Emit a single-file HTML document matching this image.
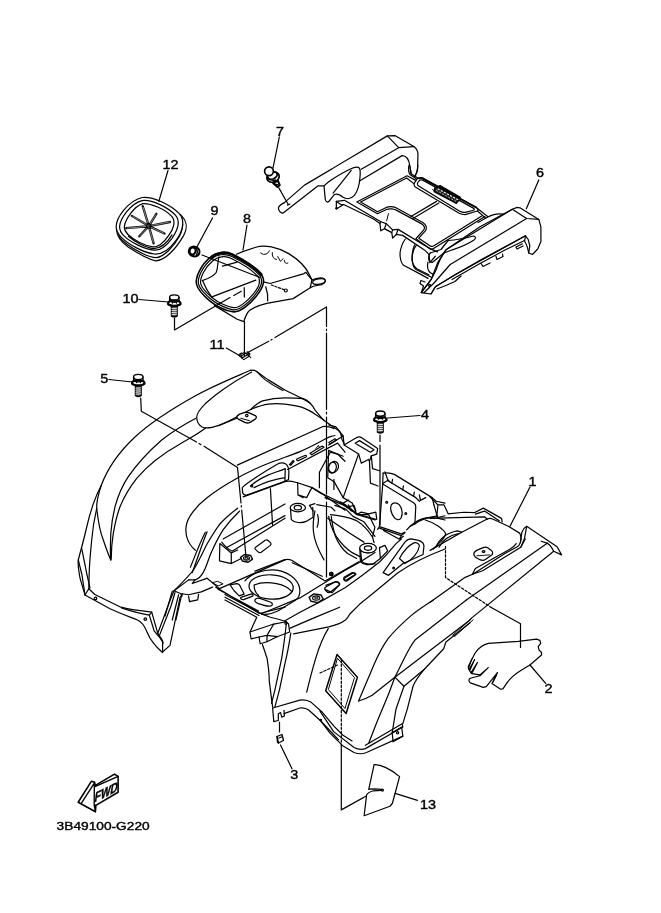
<!DOCTYPE html>
<html><head><meta charset="utf-8">
<style>
html,body{margin:0;padding:0;background:#fff;}
svg{display:block;opacity:0.999;}
text{font-family:"Liberation Sans",sans-serif;font-size:12.3px;fill:#000;stroke:#000;stroke-width:0.4px;}
.l{fill:none;stroke:#000;stroke-width:1;stroke-linecap:round;stroke-linejoin:round;vector-effect:non-scaling-stroke;}
.t path,.t line,.t polyline,.t circle,.t ellipse,.t rect,.t polygon{vector-effect:non-scaling-stroke;}
</style></head>
<body>
<svg width="661" height="913" viewBox="0 0 661 913" fill="none" stroke="#000" stroke-width="1.22" stroke-linecap="round" stroke-linejoin="round">
<defs>
<g id="bolt" stroke-width="1.22">
  <ellipse cx="0" cy="-5.6" rx="4.7" ry="2.6" fill="#fff" stroke-width="1.34"/>
  <path d="M-4.7,-5.6 L-4.7,-2 M4.7,-5.6 L4.7,-2 M-1.8,-2.4 L-1.8,0 M2.2,-2.4 L2.2,0" stroke-width="1.34"/>
  <path d="M-4.7,-2.2 Q0,0.8 4.7,-2.2" stroke-width="1.34"/>
  <ellipse cx="0" cy="0.2" rx="6.2" ry="2.5" stroke-width="1.95"/>
  <path d="M-6.2,0.2 L-6.2,1.4 Q0,5.4 6.2,1.4 L6.2,0.2" stroke-width="1.83"/>
  <path d="M-2.8,3.4 L-2.8,13 Q0,14.6 2.8,13 L2.8,3.4 Z" stroke-width="1.46" fill="#555"/>
  <path d="M-2.4,5.6 L2.4,5.2 M-2.4,7.6 L2.4,7.2 M-2.4,9.6 L2.4,9.2 M-2.4,11.6 L2.4,11.2" stroke="#fff" stroke-width="0.85"/>
</g>
</defs>

<!-- LABELS -->
<g id="labels" stroke="none" opacity="0.999">
<g transform="translate(162.5,168.8) scale(1.17,1)"><text>12</text></g>
<g transform="translate(210.5,215) scale(1.17,1)"><text>9</text></g>
<g transform="translate(243,223) scale(1.17,1)"><text>8</text></g>
<g transform="translate(122.5,303) scale(1.17,1)"><text>10</text></g>
<g transform="translate(209.5,348.8) scale(1.17,1)"><text>11</text></g>
<g transform="translate(276,135.8) scale(1.17,1)"><text>7</text></g>
<g transform="translate(536.0,176.5) scale(1.17,1)"><text>6</text></g>
<g transform="translate(100.3,383.3) scale(1.17,1)"><text>5</text></g>
<g transform="translate(421,418.8) scale(1.17,1)"><text>4</text></g>
<g transform="translate(528.5,485.8) scale(1.17,1)"><text>1</text></g>
<g transform="translate(544.5,692.8) scale(1.17,1)"><text>2</text></g>
<g transform="translate(290.3,778.8) scale(1.17,1)"><text>3</text></g>
<g transform="translate(420,808.8) scale(1.17,1)"><text>13</text></g>
<g transform="translate(56.6,829.7) scale(1.205,1)"><text style="font-size:11.4px">3B49100-G220</text></g>
</g>

<!-- BOLTS -->
<use href="#bolt" x="138.3" y="382.6"/>
<use href="#bolt" x="380.3" y="419.2"/>
<use href="#bolt" x="174.3" y="303"/>


<!-- PART 12 cap : zoom coords offset(108,190) scale 7.344 -->
<g class="t" transform="translate(108,190) scale(0.13616)">
<path d="M62,290 C65,340 100,385 150,420 C220,465 300,510 350,520 C420,520 500,430 555,335 C590,270 580,225 530,180"/>
<path d="M75,335 C110,385 180,430 250,465 C300,490 330,497 355,497 C410,490 480,420 525,340 C550,290 550,250 545,232"/>
<path d="M60,270 C60,200 150,80 250,55 C330,45 460,110 520,170 C570,220 550,300 500,370 C450,440 400,475 340,470 C260,460 150,400 100,350 C70,320 60,300 60,270 Z" fill="#fff"/>
<path d="M85,268 C90,210 165,100 250,78 C320,68 440,125 495,185 C530,225 515,290 470,355 C430,410 390,445 340,442 C270,435 165,385 115,335 C92,312 85,295 85,268 Z"/>
<path d="M120,270 C125,220 190,120 255,100 C310,95 420,140 470,195 C500,230 480,290 445,335 C410,385 370,420 330,418 C270,410 190,370 145,325 C125,305 120,290 120,270 Z"/>
<path d="M470,330 C440,380 390,430 335,430 C280,425 200,385 150,340" />
<g stroke-width="2.32" stroke="#111">
<path d="M300,265L255,118 M300,265L355,175 M300,265L455,235 M300,265L415,320 M300,265L335,392 M300,265L230,340 M300,265L135,280 M300,265L175,190"/>
</g>
<g stroke="#ddd" stroke-width="0.55">
<path d="M292,240L258,128 M310,248L350,182 M322,260L448,236 M318,275L408,316 M305,285L333,384 M288,280L236,334 M278,268L142,280 M285,255L182,194"/>
</g>
<circle cx="300" cy="265" r="15" fill="#fff" stroke-width="1.34"/>
<circle cx="300" cy="265" r="6" fill="#fff" stroke-width="0.98"/>
</g>

<!-- PART 9 nut -->
<g stroke-width="2.07">
<ellipse cx="194.2" cy="251.5" rx="5.4" ry="4.8" transform="rotate(20 194.2 251.5)"/>
<ellipse cx="192.6" cy="251" rx="3" ry="3.6" transform="rotate(15 192.6 251)"/>
<path d="M196.5,248.2 Q198.2,251.5 196.3,255.2" stroke-width="1.34"/>
</g>

<!-- PART 7 rivet : offset(255,155) scale 13.22 -->
<g class="t" transform="translate(255,155) scale(0.07564)" stroke-width="1.7">
<ellipse cx="238" cy="292" rx="84" ry="66" transform="rotate(-20 238 292)" fill="#fff"/>
<ellipse cx="230" cy="272" rx="66" ry="44" transform="rotate(-20 230 272)"/>
<path d="M160,300 Q200,350 270,330" stroke-width="1.4"/>
<circle cx="185" cy="215" r="58" fill="#fff"/>
<path d="M240,372 L298,424 L328,398 L302,338 Z" stroke-width="2" fill="#fff"/>
<path d="M270,385 L305,395" stroke-width="1.2"/>
<path d="M315,435L440,655 M428,662L462,648" stroke-width="1.2"/>
</g>


<!-- PART 8 duct : offset(190,235) scale 4.559 -->
<g class="t" transform="translate(190,235) scale(0.21936)">
<!-- body -->
<path d="M212,88 L240,76 L300,56 C340,42 400,55 450,85 C495,112 530,150 545,182 L556,205 C575,195 600,193 612,200 C622,208 618,220 600,226 C585,230 565,230 548,240 L470,290 L350,312 C310,322 275,335 262,355 C252,372 248,385 245,395 L215,384 L112,322" fill="#fff"/>
<path d="M335,214 L365,221 L520,176 L528,170 L556,205"/>
<path d="M345,236 C352,255 356,280 354,300"/>
<path d="M548,240 L556,205"/>
<ellipse cx="588" cy="212" rx="29" ry="12" transform="rotate(-10 588 212)"/>
<path d="M322,82 Q335,95 352,85 L362,72 M375,80 Q372,108 395,112 M400,98 L412,120 L425,108 M430,116 Q432,135 446,128" stroke-width="0.98"/>
<!-- ring -->
<path d="M95,100 C115,82 160,72 190,88 C230,108 290,140 325,180 C340,200 338,215 330,235 C320,260 285,305 250,330 C230,345 215,352 195,350 C165,345 120,325 90,300 C60,275 35,245 30,225 C22,195 50,135 95,100 Z" fill="#fff" stroke-width="1.59"/>
<path d="M99,108 C120,90 160,82 188,97 C228,116 285,147 318,184 C330,200 328,215 322,233 C312,256 280,298 246,322 C228,336 214,343 196,341 C168,336 124,317 96,293 C68,270 44,243 39,224 C32,197 58,142 99,108 Z" stroke-width="1.22"/>
<path d="M104,117 C125,99 160,92 186,106 C224,124 278,154 310,189 C320,202 318,215 313,231 C304,252 274,291 242,314 C226,326 213,333 197,331 C171,327 129,309 102,286 C76,265 54,240 49,223 C43,199 66,149 104,117 Z" stroke-width="1.22"/>
<path d="M100,100 C125,80 165,74 190,88 C230,108 290,140 325,180" stroke-width="2.68"/>
<!-- inside -->
<path d="M132,100 C125,125 128,150 120,170 C108,190 80,200 56,208"/>
<path d="M58,210 C70,240 85,265 100,284"/>
<path d="M100,282 L300,206"/>
<path d="M148,142 L215,124"/>
</g>


<!-- PART 11 clip -->
<g stroke-width="1.10">
<path d="M238.6,355.2L243.8,359.6L249.4,356L244.6,352.4Z"/>
<path d="M240.2,356.6L245.9,353.3 M242,358L247.6,354.7 M246.5,353.5L250.8,357.7 M241.6,352.9L239.5,354.3"/>
<path d="M247.5,352.2L249.5,354" stroke-width="1.95"/>
</g>


<!-- PART 6 left arm : offset(275,125) scale 4.4067 -->
<g class="t" transform="translate(275,125) scale(0.22693)">
<path d="M40,343 L130,265 L495,48 L530,47 L612,95 C625,105 630,115 630,130 L628,200 L618,225"/>
<path d="M40,343 C25,350 12,362 16,372 C20,382 28,388 36,388 L190,268 L216,268"/>
<path d="M495,48 L545,100 L612,95 M545,100 L380,195"/>
<path d="M216,268 C218,290 220,315 222,330 C226,340 232,342 238,336 L262,306 C275,300 290,310 300,318 C315,328 335,326 350,310 C365,290 372,265 374,235 C376,215 378,200 372,190 C365,182 350,185 330,195 C290,215 240,245 216,268 Z"/>
<path d="M256,300 L336,200"/>
<path d="M376,245 L560,135 C580,135 590,150 594,180 L600,215 L632,236"/>
<path d="M600,215 C598,205 596,190 594,180"/>
</g>

<!-- PART 6 middle : offset(330,180) scale 5.508 -->
<g class="t" transform="translate(330,180) scale(0.18155)">
<!-- rail -->
<path d="M35,118 L80,112 L280,230 L310,240 L345,275 L375,272 L545,375 L592,396"/>
<path d="M35,118 L35,160 L75,135 L240,215 L275,240 L280,280 L300,268 L340,290 L345,320 L365,300 L400,305 L520,385 L545,410 L550,455 L580,420"/>
<path d="M35,118 L60,135 L75,135 M310,240 L300,268 M375,272 L365,300 M280,230 L275,240 M345,275 L340,290"/>
<ellipse cx="36" cy="156" rx="5" ry="3"/>
<path d="M322,185 L312,225" stroke-width="0.98"/>
<!-- back plate -->
<path d="M415,325 C400,345 390,370 386,400 C384,430 392,455 405,470 L500,520 L540,542"/>
<path d="M475,360 C460,380 452,410 452,440 C455,465 465,480 480,490 L545,522"/>
</g>


<!-- PART 6 deck : offset(350,165) scale 5.0846 -->
<g class="t" transform="translate(350,165) scale(0.19667)">
<path d="M35,188 L290,55 L335,78 M686,262 L425,425 C415,430 405,426 400,421 L335,375 L375,330 C382,320 380,308 362,298 L240,232 C225,222 200,220 185,226 L140,248 L35,188"/>
<path d="M54,188 L288,66 L326,96 M672,258 L425,412 C418,416 412,414 406,410 L350,372 L384,334 C392,322 390,304 370,292 L246,224 C228,213 200,210 182,217 L140,238 L54,188"/>
<path d="M310,262 L440,185 M320,272 L452,193"/>
<!-- emblem -->
<path d="M335,80 C338,70 350,64 365,66 L640,215 C652,222 654,230 648,234 L585,252 C575,252 565,250 555,245 L332,112 C322,104 324,92 335,80 Z" fill="#fff"/>
<path d="M350,82 C353,76 362,74 370,77 L625,218 C634,224 634,228 628,230 L586,241 C578,242 568,240 560,236 L347,106 C340,100 342,90 350,82 Z"/>
<path d="M430,117 L458,105 L561,164 L541,195 L428,136 Z" fill="#222"/>
<path d="M448,122 L548,176" stroke="#fff" stroke-dasharray="1.3 2.2" stroke-width="1.1"/>
<path d="M440,130 L538,184" stroke="#ccc" stroke-dasharray="1 2.5" stroke-width="0.9"/>
<path d="M430,134 L420,125 M558,166 L562,178 L538,192" stroke-width="0.98"/>
<path d="M648,234 L690,270 M640,215 L700,262" />
<path d="M352,68 C358,64 362,65 368,67 L640,215" stroke-width="1.9"/>
<!-- left arm inner edge top -->
<path d="M300,0 C296,20 298,38 306,50 L335,68 M345,0 C344,20 340,42 330,56"/>
</g>

<!-- PART 6 right arm (target coords) -->
<g>
<!-- silhouette fill -->
<path d="M512.3,209.3 L517.1,207.4 L520,207.8 L538.8,219.4 L540.9,226.8 L540.9,241.6 L537.7,249 L532.4,254.5 L528.7,253 L529.8,245.8 L528.2,239.5 L525.5,235.8 L480,260.4 L455.5,274.5 L435.4,286.8 L431,294 L421.3,292.6 L431.2,279.4 L438,262 L446,249.8 L480,226.8 Z" fill="#fff"/>
<!-- cap facet -->
<path d="M512.3,209.3 L526.6,218.5 L538.8,219.4"/>
<!-- top-left edge L3 -->
<path d="M512.3,209.3 L446,249.8 C441,256 438,264 436,270 L431.2,279.4 L421.3,292.6"/>
<!-- ridge L2 -->
<path d="M526.6,218.5 L450.2,264.5 L434,283 L424,292.8"/>
<!-- lower edge -->
<path d="M525.5,235.8 L455.5,274.5 L435.4,286.8 L431,294"/>
<path d="M524.5,240.5 L505,250 L480,263.5 L452,279.5"/>
<path d="M525.5,235.8 C525,239 524.5,241 524.5,241 C526.5,244 528,249 528.7,253"/>
<path d="M516,247 L522.3,243.8 M516,247 L517,249 L523,246 M496,256.5 L497,259.5 L503,256.5 L502.5,254 M481,263.5 L483,266.5 L490,263 M461,276 L455,281.5 L447,285 L437,289"/>
<circle cx="429.6" cy="285.4" r="1"/>
<path d="M421.3,292.6 L423.5,286 L420,283.5 L421,280.5 L425,282"/>
<!-- bump curve deck/arm junction -->
<path d="M503.3,214.1 C498,213.3 491,215 486.4,217.8 L478,222.5"/>
<!-- bump on arm top face -->
<path d="M448.1,240.5 C456,240 466,238 473.5,236 C476,236.5 476,238.5 474,240 C468,244 458,248 452.4,249.8 L443.9,253"/>
<path d="M430.1,253 C428.6,256 428.4,259 429.1,260.4 C430,262 431,262.6 432.2,262.5 L443.9,253"/>
<path d="M430.1,253 L441,249.5 L448.1,240.5"/>
<!-- back plate -->
<path d="M414.5,245 C412.5,250 411.8,256 412.3,261 C412.8,265 414,268 416,269.5 L431,277"/>
<path d="M428,262 C427,266 427.5,270 430,272.5 L433.5,274.5"/>
</g>


<!-- FENDER left outer (target coords) -->
<g id="fl">
<!-- A outer curve + left outline + bottom -->
<path d="M250.3,370.3 C235,377 215,385 195,396 C170,410 150,423 135,437 C120,451 108,467 101.2,485.5 C95,497 90,512 86,530 C83,543 80,553 78.3,560 C77.5,566 79,572 80,578 L85,595 L110,608.8 C120,613.5 130,617 137.5,620 C142,622 145,627 147,632 C150,640 155,646 162.5,652.5"/>
<!-- B -->
<path d="M101.2,485.5 C98,495 96.5,503 96.7,508.3 C98,520 100,532 103.3,540 C106,548 108.5,555 110.8,560"/>
<!-- C -->
<path d="M110.8,560 C110,552 110.5,542 110.8,533.3 C111.5,524 113,515 115,506.7 C118,496 122,486 128.3,476.7 C137,464 148,452 161.7,440 C172,432 183,425 195.5,418.5"/>
<!-- D -->
<path d="M111.2,559 C111.3,550 112,541 113.3,533.3 C115,523 117,515 120,506.7 C124,497 129,488 136.7,478.3 C148,465 162,454 180,444 C190,438 198,434 205.5,428"/>
<!-- E inner-left lines -->
<path d="M96.7,508.3 C94,520 92.5,530 91.7,540 C90.5,552 89.5,563 89.2,573.3 L88.8,588.8"/>
<path d="M81.7,548.3 L86.7,573.3 L90,588"/>
<path d="M78.3,560 L82,575 L85,595"/>
<!-- bottom band inner -->
<path d="M88.8,588.8 L94.8,594.5 L120.9,607.2 C130,609.5 141,611 151.7,612.1 L157.8,633.3 L162.6,640.5 L162.6,652"/>
<path d="M121.5,607.8 C131,611 140,613.5 149.3,615.1 L154.1,630.8 L160.2,638.1 L163.2,642.9"/>
<path d="M151.7,612.1 L149.3,615.1"/>
<path d="M85,595 L88.8,588.8"/>
<circle cx="95.5" cy="598.4" r="1.3"/>
<circle cx="145.3" cy="619.1" r="1.3"/>
<!-- tip up to inner -->
<path d="M162.6,652 L170,645.4 L180,597.5 L182.5,593.8"/>
<path d="M157.8,633.3 L170,600.6 L173.8,591.3"/>
<path d="M159.6,635.1 L171,606 L175,592.5"/>
</g>

<!-- FENDER bump/top : offset(170,360) scale 3.672 -->
<g class="t" transform="translate(170,360) scale(0.27231)">
<path d="M295,38 C305,36 312,38 318,42 L361,73 C385,88 405,100 422,110 C445,122 465,131 483,140 C495,147 505,152 514,158 C522,166 528,175 532,183 L562,219 L620,260 C628,268 630,278 631,290 L642,313"/>
<!-- bump -->
<path d="M300,44 C250,70 180,115 130,160 C110,180 98,195 98,210 C98,225 105,238 118,246 C130,252 150,250 180,240 C220,225 260,200 300,180 C330,168 345,164 361,162 C385,159 405,160 422,162 C445,165 465,168 483,173 C500,180 518,188 532,198 L566,221"/>
<path d="M296,182 C312,166 326,155 340,150 C370,142 400,139 422,139 C450,139 470,140 489,142 C500,146 508,152 514,158"/>
<path d="M318,42 C330,55 340,65 350,73 C370,88 395,102 415,112"/>
<path d="M180,240 L250,212"/>
<!-- mount tab -->
<path d="M246,213 C244,208 248,203 256,199 L272,193 C279,191 286,192 293,195 L313,204 C319,208 318,213 313,217 L294,229 C288,232 282,232 275,229 L251,217 Z" fill="#fff" stroke-width="1.34"/>
<circle cx="282" cy="204" r="4.5"/>
<path d="M260,214 L292,223" stroke-width="0.98"/>
<!-- plateau top edge -->
<path d="M247,386 L560,245 C575,242 590,246 602,252"/>
</g>


<!-- FENDER center G1 : offset(225,425) scale 5.508 -->
<g class="t" transform="translate(225,425) scale(0.18155)">
<!-- handle -->
<path d="M95,345 C120,320 220,255 290,215 C305,207 320,206 335,215 C348,225 352,240 352,260 L350,300 L330,310 L120,386 C108,388 100,382 97,372 Z"/>
<path d="M140,336 C170,310 200,292 240,275 C270,262 310,250 332,240 M160,345 C200,325 260,300 330,290 M332,240 L330,310"/>
<circle cx="148" cy="336" r="5"/>
<!-- lower edge under handle -->
<path d="M100,396 L330,312 C350,305 375,312 400,318 L480,345 L540,380 L661,440"/>
<path d="M250,350 L262,551"/>
<!-- slots -->
<path d="M355,218 L375,196 L380,200 L362,222 Z M398,186 L440,168 C448,166 452,172 446,176 L404,196 C396,198 392,190 398,186 Z M468,156 L535,116 L545,122 L478,164 Z M572,96 L606,76 L614,82 L580,104 Z"/>
<path d="M500,130 L515,112 L520,125" stroke-width="0.98"/>
<path d="M345,245 L620,100 L661,150"/>
<!-- right top detail -->
<path d="M580,150 L620,160 L661,200 M580,150 L520,260 L520,345 M600,300 L600,355"/>
<ellipse cx="598" cy="232" rx="26" ry="32" transform="rotate(25 598 232)"/>
<!-- inner bracket -->
<path d="M400,318 L402,385 L450,400 L470,360 L480,345 M402,385 L430,400"/>
<path d="M480,345 C500,360 520,375 545,385 L661,470"/>
</g>

<!-- FENDER center G2 : offset(165,500) scale 5.508 -->
<g class="t" transform="translate(165,500) scale(0.18155)">

<path d="M400,45 C360,75 325,105 300,135 C270,175 250,210 230,245 C205,295 185,340 160,380 C140,410 100,450 50,500"/>
<path d="M410,62 C370,100 345,130 320,165 C290,210 270,255 250,300 C235,340 225,375 210,400 C195,425 180,438 165,440 L130,440"/>
<path d="M222,178 C190,240 165,310 140,370 M232,175 C205,240 180,320 150,400"/>
<!-- block -->
<path d="M302,240 L300,335 L365,350 L420,322 M365,350 L365,292 L302,240 M365,292 L400,275"/>
<path d="M312,232 C330,255 345,270 370,282 L661,100"/>
<path d="M320,215 L661,22 M340,262 L661,86"/>
<!-- nut -->
<path d="M416,316 L438,300 L472,306 L482,326 L458,343 L426,336 Z" stroke-width="1.4"/>
<ellipse cx="449" cy="321" rx="17" ry="10" stroke-width="1.1"/>
<ellipse cx="449" cy="321" rx="8" ry="5" stroke-width="1"/>
<!-- rect hole -->
<path d="M497,262 L552,222 C558,219 564,220 568,223 L582,236 C586,241 584,246 580,250 L530,288 C524,291 518,290 514,287 L498,272 C495,268 494,265 497,262 Z"/>
<!-- plate -->
<path d="M230,430 L300,488"/>
<path d="M280,480 L520,625 L661,590 M292,492 L515,612 M300,488 L661,330"/>
<path d="M262,455 L290,448 L320,462 L295,472 Z" stroke-width="0.98"/>
<!-- lower-left bracket -->
<path d="M50,500 L130,440 M165,440 L150,460 L230,432"/>
<path d="M85,515 L130,522 L200,506 L262,480 M50,500 L85,515 L95,528"/>
<path d="M130,530 L135,560 L180,550 L185,520"/>
<path d="M40,502 L0,640 M75,522 L40,661 M90,530 L60,661"/>
</g>

<!-- FENDER center G3 : offset(255,500) scale 5.508 -->
<g class="t" transform="translate(255,500) scale(0.18155)">
<!-- left boss -->
<path d="M195,42 L200,108 C215,125 255,130 282,118 L320,95 L318,40" />
<ellipse cx="236" cy="42" rx="42" ry="23" fill="#fff"/>
<ellipse cx="236" cy="42" rx="20" ry="12"/>
<!-- right boss -->
<path d="M580,268 L588,338 C600,352 635,358 661,350"/>
<ellipse cx="622" cy="266" rx="42" ry="25" fill="#fff"/>
<ellipse cx="622" cy="266" rx="20" ry="12"/>
<!-- tunnel -->
<path d="M330,60 C322,100 318,140 322,175 C326,215 340,260 380,330"/>
<path d="M420,90 C425,130 432,170 445,205 C460,240 480,270 510,295 L560,322"/>
<path d="M345,80 C350,100 350,130 342,150 M400,100 L520,182 L600,232"/>
<path d="M440,30 L500,50 L540,90 L600,120 L661,200 M470,10 L520,40 L560,80 L661,110"/>
<path d="M330,20 L300,30 L320,60 M340,25 L420,40 L440,60"/>
<!-- floor tray -->
<path d="M0,392 L160,330 C175,325 190,326 202,332 L386,446 L572,340"/>
<path d="M205,346 L370,420"/>
<circle cx="420" cy="408" r="9"/>
<circle cx="420" cy="408" r="2" stroke-width="0.8"/>
<!-- lower right rail -->
<path d="M385,482 L440,452 C450,448 468,458 464,468 L412,510 C400,514 382,495 385,482 Z"/>
<path d="M490,432 L540,402 C548,398 560,406 554,412 L506,446 C498,450 484,440 490,432 Z"/>
<path d="M298,536 L324,517 L364,523 L376,546 L347,565 L308,558 Z" stroke-width="1.4"/>
<ellipse cx="337" cy="540" rx="20" ry="12" stroke-width="1.1"/>
<ellipse cx="337" cy="540" rx="9" ry="5.5" stroke-width="1"/>
</g>


<!-- big inner arch curve (target coords) -->
<path d="M335,435.5 C330,436.5 328,437.5 326.8,438.2 C318,443 309,448 300,451.6 C290,455.5 281,458.5 272.5,461.8 C260,466.5 248,472 236.2,478.8 C225,485 215,491.5 206.7,498.1 C201,502.5 196.5,507 193.1,511.7 C189.5,516.5 187,521 186.3,525.3 C185.5,530 186,535 187.4,538.9 C189,543.5 192,547.5 195.4,550.3"/>


<!-- FENDER center-right G4 : offset(325,425) scale 5.508 -->
<g class="t" transform="translate(325,425) scale(0.18155)">
<path d="M20,0 L60,10 L100,60 L105,110 L170,72 C180,66 190,64 198,68 L290,130 L285,160 L255,170 L245,200 L240,190 L200,210 L185,160 L105,110"/>
<path d="M190,86 L270,136 L250,150 L166,100 Z"/>
<path d="M100,60 L20,110 M20,140 L100,172 M185,160 L100,400 M20,140 L15,290 L50,312 L100,400"/>
<ellipse cx="40" cy="235" rx="22" ry="30" transform="rotate(15 40 235)"/>
<path d="M245,200 L250,320 L292,336 M255,170 L262,240 L300,252"/>
<!-- right plate box -->
<path d="M320,265 C340,262 365,264 382,272 L590,400 L600,440"/>
<path d="M330,258 L345,300 L356,312 M320,265 L318,322 L345,306"/>
<path d="M372,300 L368,322 M432,335 L428,358 M492,370 L488,392 M520,385 L525,415 L555,400" />
<path d="M345,306 L500,400 L520,420"/>
<path d="M318,325 L490,430 C498,436 500,442 500,450 L495,545 L470,558"/>
<path d="M318,325 L300,560 L420,600 L440,590 M300,560 L290,575"/>
<path d="M365,440 C375,425 395,425 410,440 C425,460 430,490 420,510 C410,528 390,525 378,505 C365,485 358,460 365,440 Z"/>
<circle cx="340" cy="425" r="5"/><circle cx="445" cy="488" r="5"/>
<path d="M590,400 L612,420 L661,430 M600,440 L620,510 L661,500 M495,545 C520,520 560,510 620,500"/>
<!-- bottom left -->
<path d="M0,400 L100,440 L180,490 L280,520 M100,400 L150,430 L170,480 M130,440 L140,470 L160,478"/>
<path d="M240,490 L280,480 L285,520 M180,490 L200,480 L240,490"/>
</g>

<!-- FENDER center-right G5 : offset(325,500) scale 5.508 -->
<g class="t" transform="translate(325,500) scale(0.18155)">
<!-- right boss -->
<path d="M192,268 L195,340 C210,358 245,362 270,348 L305,322 L300,262"/>
<ellipse cx="237" cy="265" rx="46" ry="26" fill="#fff"/>
<ellipse cx="237" cy="265" rx="20" ry="12"/>
<path d="M300,262 L330,250 L345,280 L305,322"/>
<circle cx="35" cy="408" r="9"/><circle cx="35" cy="408" r="3"/>
<!-- rails -->
<path d="M105,425 L150,400 C158,398 168,406 164,412 L120,440 C112,444 100,434 105,425 Z"/>
<path d="M5,470 L60,450 C70,448 84,458 80,466 L40,510 L0,492"/>
<!-- gusset -->
<path d="M320,400 L440,232 C450,220 462,214 475,214 L515,222 C535,228 545,240 545,255 L540,300 L430,350 L350,415 Z"/>
<path d="M410,322 C430,285 460,250 490,236 C505,232 518,240 520,252 C515,290 480,330 440,350 Z"/>
<circle cx="378" cy="375" r="5"/>
<!-- dome -->
<path d="M450,165 C480,130 510,112 535,104 C560,96 610,96 661,110"/>
<path d="M552,110 C575,116 600,128 625,145 C645,160 660,172 665,186 C660,205 645,222 630,236 L596,270"/>
<!-- plate bottom -->
<path d="M300,155 L420,196 L440,180 M322,168 L410,216 L432,200 M420,196 L410,216"/>
<!-- left tunnel curves -->
<path d="M20,90 C30,140 45,175 62,200 C85,235 120,270 150,290 L192,312"/>
<path d="M30,80 C80,85 130,95 170,112 C210,135 240,170 262,205 L275,150 L240,80"/>
<path d="M262,205 L270,235"/>
<path d="M95,20 L130,0 M95,20 L150,60 L175,80 L240,80 M120,40 L160,30 L170,60"/>
</g>


<!-- FENDER right G6 : offset(430,490) scale 4.4067 -->
<g class="t" transform="translate(430,490) scale(0.22693)">
<path d="M0,30 L20,50 L35,66 L30,115 M35,66 L62,66 L80,105 L150,98 L195,100 L235,80 L315,125 L318,140"/>
<path d="M200,106 L240,93 L305,136"/>
<path d="M0,125 L240,118 L252,128"/>
<!-- dome -->
<path d="M252,128 C260,124 268,124 276,128 L345,160 L395,190 C402,205 402,222 398,232 C394,242 390,248 385,250 L330,280 L190,370"/>
<path d="M252,128 L140,186 L0,266"/>
<path d="M380,236 C372,248 362,256 350,262 L200,346 L186,372"/>
<path d="M190,370 L232,356 L400,252 L420,216"/>
<path d="M28,250 C40,215 75,188 120,180 L140,186 M40,252 C55,222 85,200 125,192"/>
<!-- tab -->
<path d="M194,287 C191,280 196,272 206,266 L234,254 C242,251 250,252 256,256 L272,268 C278,274 277,282 270,288 L244,306 C236,311 228,311 220,307 L200,296 Z" fill="#fff"/>
<ellipse cx="236" cy="271" rx="6" ry="4"/>
<path d="M206,290 L262,286" stroke-width="0.9"/>
<!-- fin -->
<path d="M398,232 L405,186 C410,172 418,164 426,160 L560,250 L580,286 L545,270 C535,250 525,238 515,234 L490,226"/>
<path d="M426,160 L416,215 L400,252"/>
<!-- long lines -->
<path d="M0,495 L155,385 L190,370"/>
<path d="M518,234 L160,485"/>
<path d="M545,270 L176,570"/>
<path d="M100,640 L185,565 M108,646 L190,572" stroke-width="0.98"/>
</g>

<!-- FENDER lower right G7 : offset(320,600) scale 4.4067 -->
<g class="t" transform="translate(320,600) scale(0.22693)">
<path d="M500,0 C460,25 430,45 400,70 C360,105 325,140 300,170 C275,205 255,245 240,280 L170,445"/>
<path d="M170,445 C190,440 210,432 230,420 L330,340 L661,88"/>
<path d="M645,0 L420,175 C400,200 385,230 370,260 L330,340 C320,365 310,395 300,420 L250,540 L215,630"/>
<path d="M330,340 L370,380"/>
<path d="M661,100 L555,185 L545,215 L460,305 L370,380 L335,480 L318,585"/>
<path d="M460,305 C435,335 420,355 410,380 L385,480 L365,545"/>
<!-- bottom band -->
<path d="M0,490 L60,580 L150,650 C165,658 185,660 200,655 L365,560 L362,545 L200,640"/>
<path d="M318,585 L360,560 L365,600 L322,625 Z"/>
<circle cx="342" cy="585" r="5"/>
<path d="M0,528 L45,588 L100,642 L150,672 C170,680 190,678 205,672 L365,600"/>
<!-- diamond hole -->
<path d="M75,240 L165,340 L115,500 L25,400 Z" stroke-width="1.5"/>
<path d="M78,258 L152,342 L110,478 L38,396 Z" stroke-width="0.98"/>
</g>

<!-- FENDER lower center G8 : offset(225,590) scale 4.4067 -->
<g class="t" transform="translate(225,590) scale(0.22693)">
<path d="M110,185 L215,150 L270,140 L280,150 L285,185 L232,205 L185,228 L155,237 L150,207 L115,215 Z"/>
<path d="M185,228 L185,200 L232,205 M150,207 L185,200 L215,150"/>
<circle cx="268" cy="147" r="4"/>
<path d="M165,240 C175,270 182,290 185,300 C192,340 195,370 195,400 L205,480 L210,515"/>
<path d="M270,150 C265,200 258,250 250,300 L220,440 L205,500 M290,190 C283,235 275,280 265,320 L240,440 L220,515"/>
<!-- hook -->
<path d="M210,520 L215,580 L235,575 L235,545 L245,540 L250,560 L262,555 L260,530"/>
<path d="M210,520 L330,485 C350,482 368,487 380,495 L430,540 L480,600 L520,640 L560,665"/>
<path d="M260,545 L330,520 C345,518 360,522 370,530 L420,575 L500,660"/>
<circle cx="422" cy="573" r="3"/>
<!-- plate above -->
<path d="M0,20 L160,105 L200,120 L240,130 L270,140 M0,32 L150,112 M0,44 L140,120 L110,185"/>
<path d="M455,170 C430,210 412,260 400,300 C385,350 372,400 360,450"/>
<!-- nut -->
</g>

<!-- clip 3 -->
<g stroke-width="1.34">
<path d="M277,736.5 L282,734.5 L283.5,740.5 L278.5,743 Z"/>
<path d="M277,736.5 L277.5,742 L278.5,743 M279,738 L281.5,737" />
</g>


<!-- PART 2 : offset(455,630) scale 6.009 -->
<g class="t" transform="translate(455,630) scale(0.16642)">
<path d="M200,80 L380,68 L490,55 L510,62 L515,80 L500,100 L505,120 L520,135 L520,150 L450,210 L400,240 C360,265 330,290 312,318 L288,354 L272,355 L222,322 L255,256 L188,340 L170,345 L92,318 C80,306 82,296 92,290 L150,275 L200,226 L150,270 L100,262 L135,195 L96,258 L88,245 L118,178 L84,240 C80,235 78,225 82,215 L120,140 C135,115 160,90 200,80 Z"/>
<path d="M100,175 L84,225 M250,270 L225,318" stroke-width="1.10"/>
</g>

<!-- PART 13 : offset(335,755) scale 6.009 -->
<g class="t" transform="translate(335,755) scale(0.16642)">
<path d="M203,205 L235,58 C270,55 330,80 388,130 L345,290 L330,308 L175,365 L190,240 C195,228 205,222 230,215 L278,212"/>
<path d="M203,205 L240,204 L280,207"/>
<circle cx="285" cy="211" r="6"/>
</g>

<!-- FWD arrow : offset(70,765) scale 11.017 -->
<g class="t" transform="translate(70,765) scale(0.09077)" stroke-width="1.59">
<path d="M90,410 L235,180 L270,190 L280,225 L490,100 L530,125 L530,300 L285,445 L280,515 Z" fill="#fff"/>
<path d="M128,418 L264,205 L270,190 M264,205 L268,240 L512,133 L530,125 M268,240 L266,440 L285,445 M266,440 L280,515" stroke-width="1.34"/>
</g>
<g transform="matrix(0.70,-0.335,-0.16,1,93.9,802.4)"><text style="font-weight:bold;font-size:14.6px;stroke-width:0.5px" x="0" y="0">FWD</text></g>


<!-- CUPHOLDER : offset(220,545) scale 6.009 -->
<g class="t" transform="translate(220,545) scale(0.16642)">
<path d="M150,215 C190,170 260,148 320,150 C400,155 470,200 480,265 C482,300 470,320 455,330 L350,395 C320,410 280,420 250,415"/>
<ellipse cx="307" cy="252" rx="133" ry="73" transform="rotate(3 307 252)"/>
<path d="M205,240 C240,225 290,222 340,232 C380,240 415,258 432,280 M205,240 C205,262 212,285 228,300"/>
<path d="M60,240 L100,232 C112,232 120,242 125,255 L145,295 L115,306 L85,275 Z"/>
<path d="M125,315 L190,294 C198,294 202,302 196,307 L142,328 C130,330 120,322 125,315 Z"/>
<path d="M210,330 C215,322 230,318 245,322 L305,344 C318,350 318,362 305,366 C290,370 265,364 230,352 C215,346 206,338 210,330 Z"/>
<path d="M228,300 L235,312"/>
</g>


<!-- rails R1-R4 (target coords) -->
<path d="M261.3,613.8 L299.9,597.9 L324.2,583 L343.9,570.9 L360.5,561.8 L375,552.5"/>
<path d="M284.5,621 L300,612.2 L322.7,600.4 L345.4,587.5 C356,580 372,568 379.5,562 C388,554 393,547 395.8,543.9 L401.3,539"/>
<path d="M290.2,628.1 L314,617.9 L339.6,607.2"/>
<path d="M293.6,633.8 L328.8,626.9 C335,625.5 341,623.5 345.4,620.1 C347.5,618 348.8,616 349.9,614 L360.5,603.4 L375.6,591.3 L397.6,573 C412,563 428,555.5 445,549"/>

<!--PARTS-->
<!--TOP-->
<!-- LEADERS -->
<g id="leaders">
<path d="M168,170.5L158.8,201.3 M212.5,218L196.3,248 M247,225L243,250 M138.8,299.5L168.8,302 M226.3,348L242.4,357.2 M279.3,137L273,168 M538.8,180L526.3,208.8 M108.8,379.5L132.5,382 M420,415.5L387.5,418 M530,487L510,526.3 M530,665L545.7,683.3 M280.5,745L292,768.8 M395.2,793.3L417.4,800.3"/>
</g>

<!-- ASSEMBLY LINES -->
<g id="asm">
<!-- bolt10 -->
<path d="M174.5,318L174.5,330L230,297.5 M233.8,295.5L241.3,291.3 M244.2,287.6L244.4,297"/>
<!-- nut 9 -->
<path d="M202,255L260,277.5"/>
<path d="M271.3,285L283.8,289.5" stroke-dasharray="2.2 1.6"/>
<circle cx="285.8" cy="290.5" r="1.5"/>
<!-- clip 11 -->
<path d="M244.5,321.3L244.4,355.6"/>
<path d="M248.2,352.3L268.8,341.3 M271,340L272,339.4 M275,337.5L326.5,307"/>
<path d="M326.5,307L326.5,326.5 M326.5,329L326.5,330.6 M326.5,333L326.5,409.5 M326.5,412L326.5,414 M326.5,417L326.5,494 M326.5,497L326.5,499 M326.5,502L326.5,577"/>
<!-- bolt5 -->
<path d="M140.7,398L141.3,411.3L196.5,442 M199,443.5L201,444.7 M204,446.3L237.5,467.5L241,503 M241.3,505.5L241.4,507 M241.7,510L246,557"/>
<!-- bolt4 -->
<path d="M380,435L380,441.5 M380,445L380,525"/>
<!-- part 2 -->
<path d="M445.5,546.3L445.5,577.5L491.3,607.5" stroke-dasharray="2.4 1.8"/>
<path d="M491.3,607.5L520.5,623.8L520.5,647.5"/>
<!-- part 13 -->
<path d="M320,673L337.5,665 M341.3,660L341.3,745" stroke-dasharray="2.4 1.8"/>
<path d="M341.3,745L341.3,809.9L365.8,796.3"/>
<!-- clip 3 -->
<path d="M279.5,722L279.5,732"/>
</g>

</svg>
</body></html>
